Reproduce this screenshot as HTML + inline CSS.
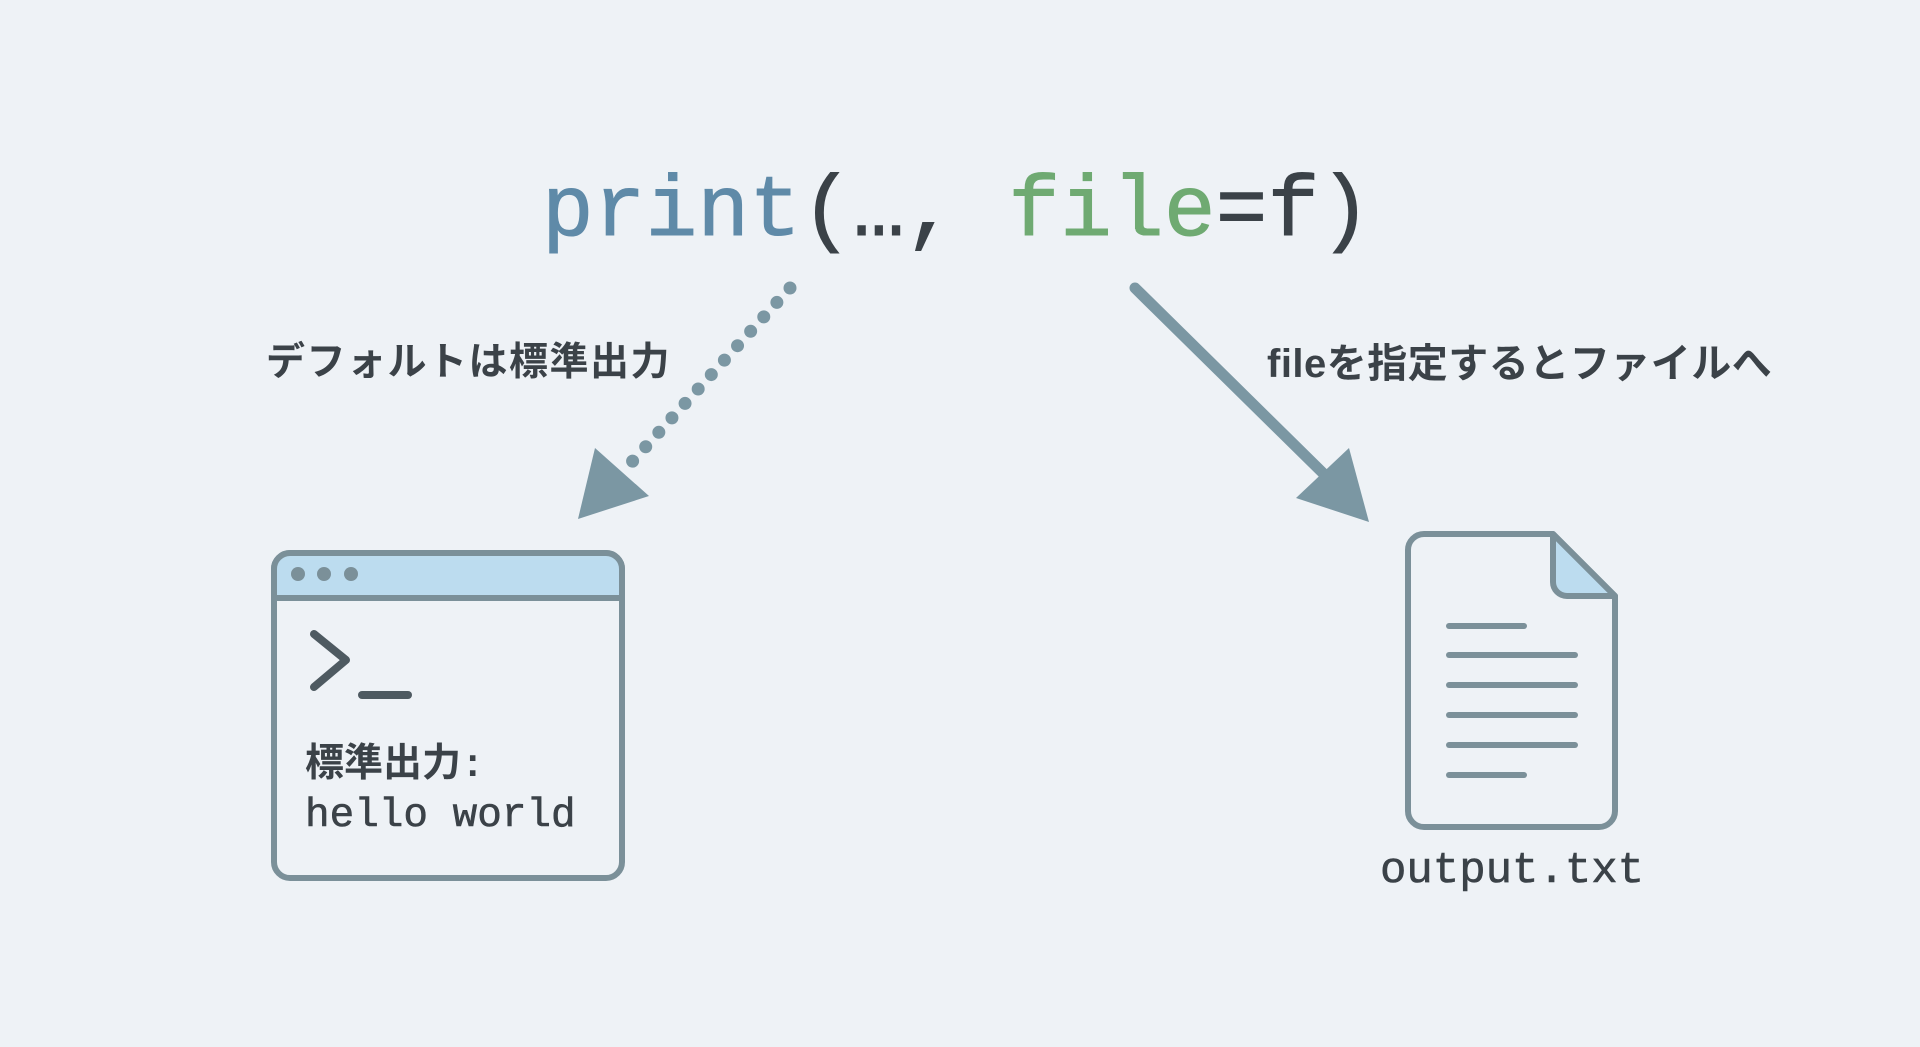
<!DOCTYPE html>
<html><head><meta charset="utf-8"><style>
body{margin:0;width:1920px;height:1047px;background:#eef2f6;overflow:hidden;position:relative;font-family:"Liberation Sans","Noto Sans CJK JP",sans-serif}
.t{position:absolute;white-space:nowrap}
</style></head><body>
<svg width="1920" height="1047" style="position:absolute;left:0;top:0">
<text x="542" y="235" font-family="Liberation Mono, monospace" font-size="86" fill="#3b4248" stroke="#3b4248" stroke-width="1" textLength="829" lengthAdjust="spacing"><tspan fill="#5f8aa8" stroke="#5f8aa8">print</tspan>(…,  <tspan fill="#6faa72" stroke="#6faa72">file</tspan>=f)</text>
<line x1="790" y1="288" x2="620" y2="475" stroke="#7b97a3" stroke-width="13" stroke-linecap="round" stroke-dasharray="0 19.5"/>
<polygon points="578,519 595,448 649,496" fill="#7b97a3"/>
<line x1="1135" y1="288" x2="1330" y2="480" stroke="#7b97a3" stroke-width="11" stroke-linecap="round"/>
<polygon points="1369,522 1296,498 1349,448" fill="#7b97a3"/>
<rect x="274" y="553" width="348" height="325" rx="16" fill="#eef2f6" stroke="#7b9099" stroke-width="6"/>
<path d="M274,598 V569 a16,16 0 0 1 16,-16 H606 a16,16 0 0 1 16,16 V598 Z" fill="#bcdcef" stroke="#7b9099" stroke-width="6"/>
<circle cx="298" cy="574" r="7" fill="#7b9099"/><circle cx="324" cy="574" r="7" fill="#7b9099"/><circle cx="351" cy="574" r="7" fill="#7b9099"/>
<polyline points="314,634 346,660 314,687" fill="none" stroke="#4e5a61" stroke-width="8" stroke-linecap="round" stroke-linejoin="round"/>
<line x1="362" y1="695" x2="408" y2="695" stroke="#4e5a61" stroke-width="8" stroke-linecap="round"/>
<path d="M1424,534 H1553 L1615,596 V811 a16,16 0 0 1 -16,16 H1424 a16,16 0 0 1 -16,-16 V550 a16,16 0 0 1 16,-16 Z" fill="#eef2f6" stroke="#7b9099" stroke-width="6" stroke-linejoin="round"/>
<path d="M1553,534 V582 a14,14 0 0 0 14,14 H1615 Z" fill="#bcdcef" stroke="#7b9099" stroke-width="6" stroke-linejoin="round"/>
<g stroke="#7b9099" stroke-width="6" stroke-linecap="round">
<line x1="1449" y1="626" x2="1524" y2="626"/><line x1="1449" y1="655" x2="1575" y2="655"/><line x1="1449" y1="685" x2="1575" y2="685"/><line x1="1449" y1="715" x2="1575" y2="715"/><line x1="1449" y1="745" x2="1575" y2="745"/><line x1="1449" y1="775" x2="1524" y2="775"/>
</g>
</svg>
<div class="t" style="left:266px;top:331px;font-size:39px;color:#3b4248;letter-spacing:1.5px;font-weight:bold">デフォルトは標準出力</div>
<div class="t" style="left:1267px;top:331px;font-size:40px;color:#3b4248;letter-spacing:0.5px;font-weight:bold">fileを指定するとファイルへ</div>
<div class="t" style="left:305px;top:732px;font-size:39px;color:#3b4248;font-weight:bold">標準出力<span style="font-family:'Liberation Mono',monospace">:</span></div>
<div class="t" style="left:305px;top:793px;font-size:41px;color:#3b4248;font-family:'Liberation Mono',monospace;-webkit-text-stroke:0.6px #3b4248">hello world</div>
<div class="t" style="left:1380px;top:846px;font-size:44px;color:#3b4248;font-family:'Liberation Mono',monospace;-webkit-text-stroke:0.6px #3b4248">output.txt</div>
</body></html>
